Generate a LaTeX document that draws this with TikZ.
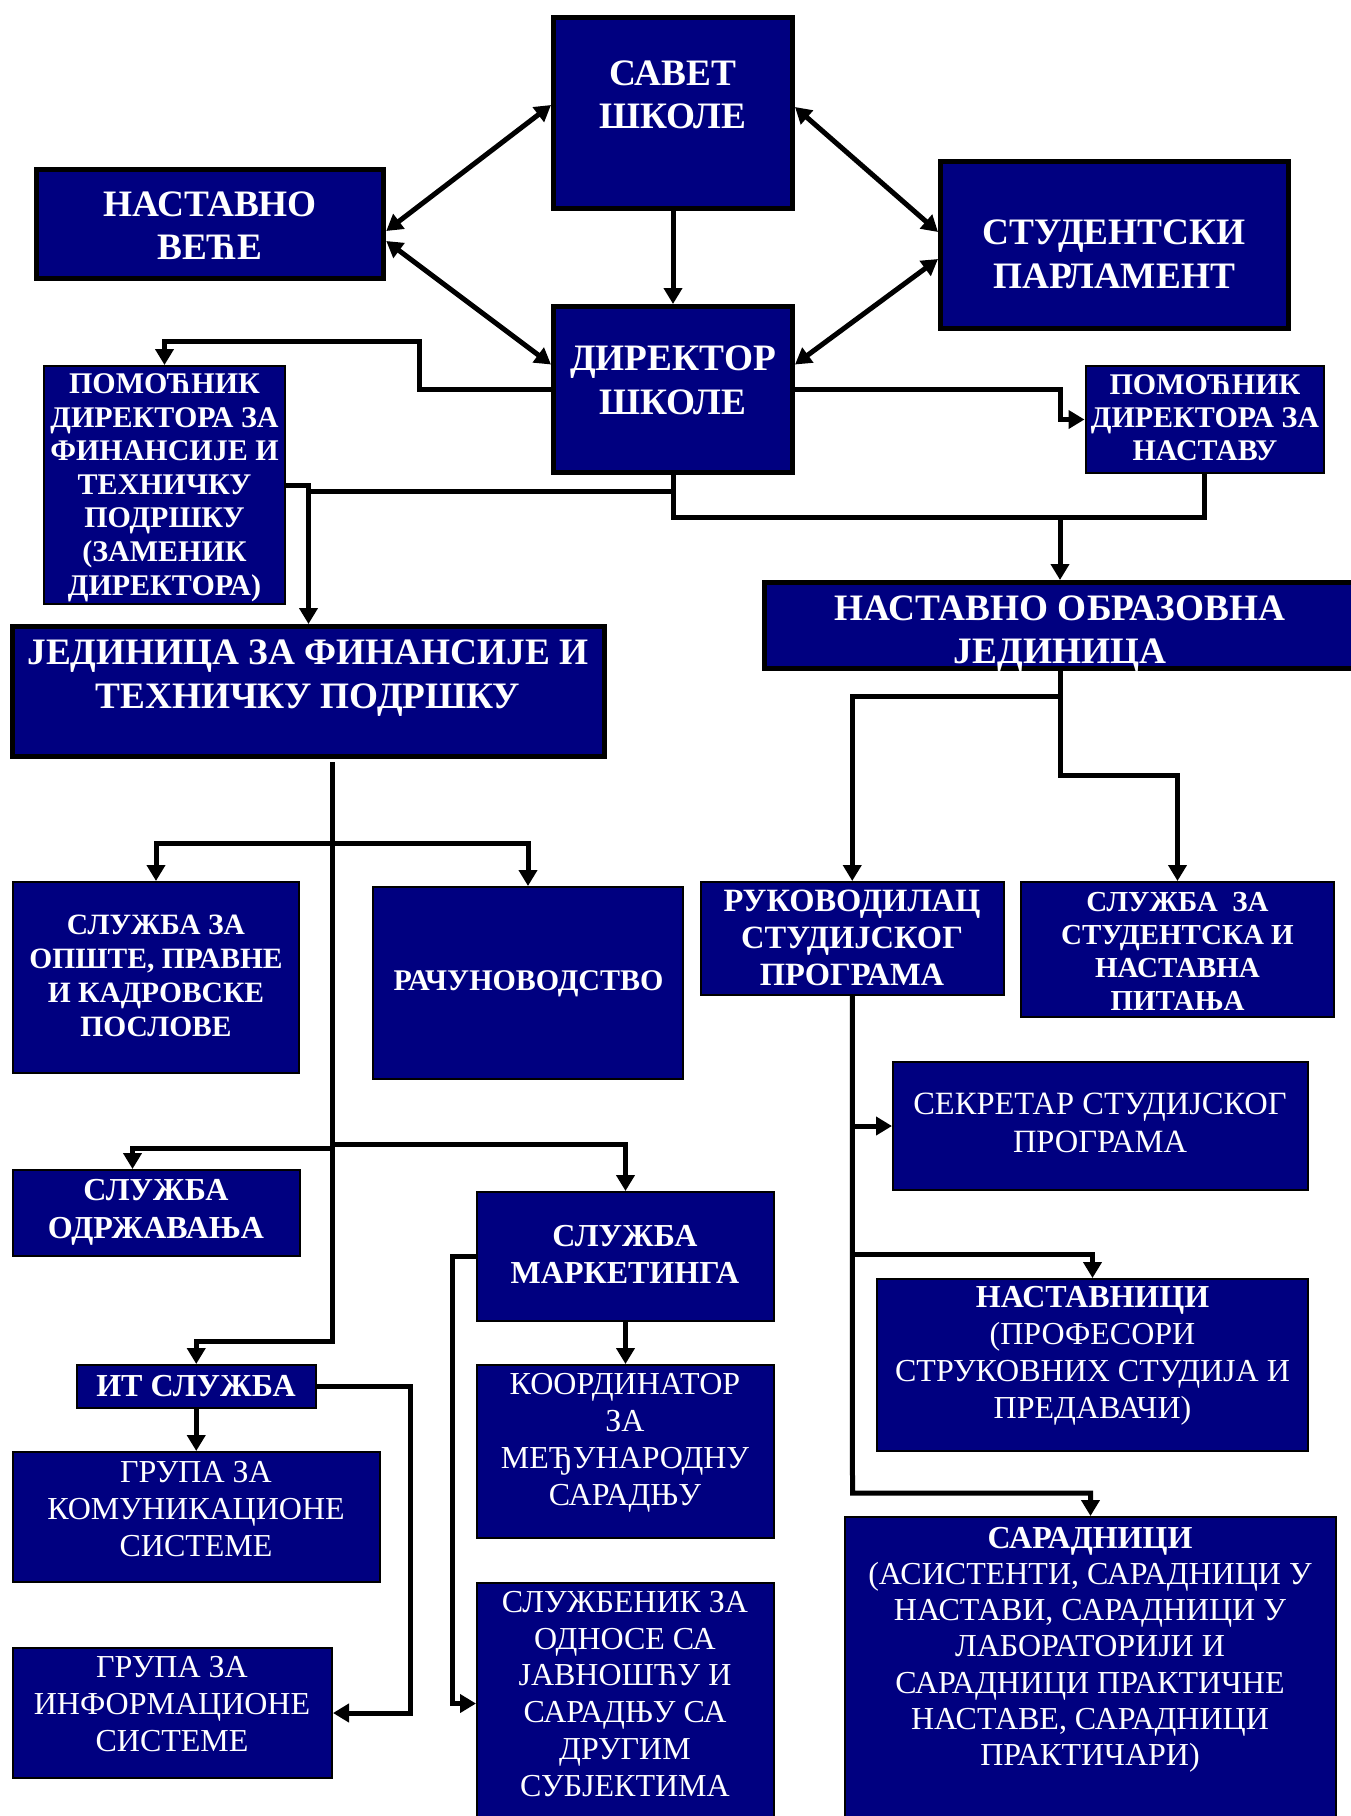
\documentclass[tikz,border=0pt]{standalone}
\usepackage{fontspec}
\setmainfont{Liberation Serif}
\usetikzlibrary{arrows.meta,calc}
\definecolor{navy}{RGB}{0,0,128}
\begin{document}
\begin{tikzpicture}[x=1pt,y=-1pt,
  thickbox/.style={rectangle,draw=black,line width=5pt,fill=navy,inner sep=0pt},
  thinbox/.style={rectangle,draw=black,line width=2pt,fill=navy,inner sep=0pt},
  lbl/.style={text=white,align=center,inner sep=0pt,anchor=base},
  conn/.style={line width=5pt},
  arr/.style={line width=5pt,-{Triangle[length=16pt,width=18pt]}},
  darr/.style={line width=5pt,{Triangle[length=16pt,width=18pt]}-{Triangle[length=16pt,width=18pt]}}
]
\fill[white] (0,0) rectangle (1351,1816);
\useasboundingbox (0,0) rectangle (1351,1816);

% ---------- boxes ----------
\node[thickbox,minimum width=239pt,minimum height=191pt] (savet) at (673,113) {};
\node[thickbox,minimum width=347.5pt,minimum height=109pt] (nv) at (210,224) {};
\node[thickbox,minimum width=348pt,minimum height=167pt] (stud) at (1114.5,245) {};
\node[thickbox,minimum width=239pt,minimum height=166pt] (dir) at (673,389.5) {};
\node[thickbox,minimum width=593pt,minimum height=86pt] (noj) at (1061,625.5) {};
\node[thickbox,minimum width=592pt,minimum height=130pt] (jfin) at (308.5,691.5) {};

\node[thinbox,minimum width=241pt,minimum height=238pt] (pomL) at (164.5,485) {};
\node[thinbox,minimum width=238.5pt,minimum height=107pt] (pomR) at (1204.75,419.5) {};
\node[thinbox,minimum width=286pt,minimum height=191pt] (opste) at (156,977.5) {};
\node[thinbox,minimum width=310pt,minimum height=192pt] (racun) at (528,983) {};
\node[thinbox,minimum width=287pt,minimum height=86pt] (odrz) at (156.5,1213) {};
\node[thinbox,minimum width=297pt,minimum height=129pt] (market) at (625.5,1256.5) {};
\node[thinbox,minimum width=239.5pt,minimum height=43pt] (it) at (196.25,1386.5) {};
\node[thinbox,minimum width=367pt,minimum height=130pt] (gkom) at (196.5,1517) {};
\node[thinbox,minimum width=319pt,minimum height=130pt] (ginf) at (172.5,1713) {};
\node[thinbox,minimum width=297pt,minimum height=173pt] (koord) at (625.5,1451.5) {};
\node[thinbox,minimum width=297pt,minimum height=241pt] (sluzb) at (625.5,1703.5) {};
\node[thinbox,minimum width=302.5pt,minimum height=113pt] (rukov) at (852.25,938.5) {};
\node[thinbox,minimum width=313pt,minimum height=134.5pt] (sstud) at (1177.5,949.25) {};
\node[thinbox,minimum width=415pt,minimum height=128pt] (sekr) at (1100.5,1126) {};
\node[thinbox,minimum width=431pt,minimum height=172pt] (nast) at (1092.5,1365) {};
\node[thinbox,minimum width=491pt,minimum height=307pt] (sarad) at (1090.5,1670.5) {};

% ---------- labels (anchored at the baseline of the last line) ----------
\begin{scope}[every node/.append style={lbl}]
\node[font=\fontsize{37.3}{43.5}\selectfont\bfseries] (savet-t) at (673,128.5) {САВЕТ\\ШКОЛЕ};
\node[font=\fontsize{37.3}{42.3}\selectfont\bfseries] (nv-t) at (210,259) {НАСТАВНО\\ВЕЋЕ};
\node[font=\fontsize{37.3}{43.4}\selectfont\bfseries] (stud-t) at (1114,288) {СТУДЕНТСКИ\\ПАРЛАМЕНТ};
\node[font=\fontsize{37.3}{44}\selectfont\bfseries] (dir-t) at (673,414) {ДИРЕКТОР\\ШКОЛЕ};
\node[font=\fontsize{30}{33.6}\selectfont\bfseries] (pomL-t) at (164.5,595) {ПОМОЋНИК\\ДИРЕКТОРА ЗА\\ФИНАНСИЈЕ И\\ТЕХНИЧКУ\\ПОДРШКУ\\(ЗАМЕНИК\\ДИРЕКТОРА)};
\node[font=\fontsize{30}{33}\selectfont\bfseries] (pomR-t) at (1205,460) {ПОМОЋНИК\\ДИРЕКТОРА ЗА\\НАСТАВУ};
\node[font=\fontsize{37.3}{42.5}\selectfont\bfseries] (noj-t) at (1060,663) {НАСТАВНО ОБРАЗОВНА\\ЈЕДИНИЦА};
\node[font=\fontsize{37.3}{44.6}\selectfont\bfseries] (jfin-t) at (308,708.6) {ЈЕДИНИЦА ЗА ФИНАНСИЈЕ И\\ТЕХНИЧКУ ПОДРШКУ};
\node[font=\fontsize{29.5}{34}\selectfont\bfseries] (opste-t) at (156,1036.6) {СЛУЖБА ЗА\\ОПШТЕ, ПРАВНЕ\\И КАДРОВСКЕ\\ПОСЛОВЕ};
\node[font=\fontsize{30}{34}\selectfont\bfseries] (racun-t) at (528.5,990.5) {РАЧУНОВОДСТВО};
\node[font=\fontsize{32}{38}\selectfont\bfseries] (odrz-t) at (156,1238) {СЛУЖБА\\ОДРЖАВАЊА};
\node[font=\fontsize{32}{37}\selectfont\bfseries] (market-t) at (625,1283) {СЛУЖБА\\МАРКЕТИНГА};
\node[font=\fontsize{32}{37}\selectfont\bfseries] (it-t) at (196,1396.5) {ИТ СЛУЖБА};
\node[font=\fontsize{32}{37}\selectfont] (gkom-t) at (196,1556) {ГРУПА ЗА\\КОМУНИКАЦИОНЕ\\СИСТЕМЕ};
\node[font=\fontsize{32}{37}\selectfont] (ginf-t) at (172,1751) {ГРУПА ЗА\\ИНФОРМАЦИОНЕ\\СИСТЕМЕ};
\node[font=\fontsize{32}{37}\selectfont] (koord-t) at (625,1505.7) {КООРДИНАТОР\\ЗА\\МЕЂУНАРОДНУ\\САРАДЊУ};
\node[font=\fontsize{32}{36.7}\selectfont] (sluzb-t) at (625,1796) {СЛУЖБЕНИК ЗА\\ОДНОСЕ СА\\ЈАВНОШЋУ И\\САРАДЊУ СА\\ДРУГИМ\\СУБЈЕКТИМА};
\node[font=\fontsize{32.5}{37}\selectfont\bfseries] (rukov-t) at (852,985.6) {РУКОВОДИЛАЦ\\СТУДИЈСКОГ\\ПРОГРАМА};
\node[font=\fontsize{29}{33}\selectfont\bfseries] (sstud-t) at (1177.5,1010) {СЛУЖБА~~ЗА\\СТУДЕНТСКА И\\НАСТАВНА\\ПИТАЊА};
\node[font=\fontsize{32.5}{38}\selectfont] (sekr-t) at (1100,1152) {СЕКРЕТАР СТУДИЈСКОГ\\ПРОГРАМА};
\node[font=\fontsize{32}{36.7}\selectfont] (nast-t) at (1092.5,1418) {\textbf{НАСТАВНИЦИ}\\(ПРОФЕСОРИ\\СТРУКОВНИХ СТУДИЈА И\\ПРЕДАВАЧИ)};
\node[font=\fontsize{32}{36.3}\selectfont] (sarad-t) at (1090,1765.8) {\textbf{САРАДНИЦИ}\\(АСИСТЕНТИ, САРАДНИЦИ У\\НАСТАВИ, САРАДНИЦИ У\\ЛАБОРАТОРИЈИ И\\САРАДНИЦИ ПРАКТИЧНЕ\\НАСТАВЕ, САРАДНИЦИ\\ПРАКТИЧАРИ)};
\end{scope}

% ---------- bend coordinates ----------
\coordinate (b1) at (419,341);
\coordinate (b2) at (1060,400);
\coordinate (b3) at (308.5,491);
\coordinate (b4) at (1060,517.5);
\coordinate (t1) at (332,843);
\coordinate (t2l) at (332,1148);
\coordinate (t2r) at (332,1144);
\coordinate (t3) at (332,1341);
\coordinate (b5) at (410,1500);
\coordinate (b6) at (452.5,1500);
\coordinate (r1) at (1060,696);
\coordinate (r2) at (1060,775);
\coordinate (r3) at (852.5,1126);
\coordinate (r4) at (852.5,1254);
\coordinate (r5) at (852.5,1493);

% ---------- connectors ----------
\draw[darr] ([yshift=-7pt]nv.east) -- ([yshift=8pt]savet.west);
\draw[darr] ([yshift=-17pt]nv.east) -- ([yshift=25pt]dir.west);
\draw[darr] ([yshift=6pt]savet.east) -- ([yshift=13pt]stud.west);
\draw[darr] ([yshift=25pt]dir.east) -- ([yshift=-14pt]stud.west);
\draw[arr] (savet.south) -- (dir.north);

\draw[arr] (dir.west) -| (b1) -| (pomL.north);
\draw[arr] (dir.east) -| (b2) |- (pomR.west);
\draw[arr] (pomL.east) -| (jfin.north);
\draw[conn] (dir.south) |- (b3);
\draw[conn] (dir.south) |- (b4);
\draw[conn] (pomR.south) |- (b4);
\draw[arr] (b4) -- (b4 |- noj.north);

% left tree
\draw[arr] ([xshift=23.5pt,yshift=-3pt]jfin.south) -- (t3) -| (it.north);
\draw[arr] (t1) -| (opste.north);
\draw[arr] (t1) -| (racun.north);
\draw[arr] (t2l) -| ([xshift=-24pt]odrz.north);
\draw[arr] (t2r) -| (market.north);
\draw[arr] (it.south) -- (it.south |- gkom.north);
\draw[arr] (it.east) -| (b5) |- (ginf.east);
\draw[arr] (market.south) -- (koord.north);
\draw[arr] (market.west) -| (b6) |- (sluzb.west);

% right tree
\draw[arr] (r1 |- noj.south) -- (r2) -| (sstud.north);
\draw[arr] (r1) -| (rukov.north);
\draw[arr] (rukov.south) -- (r5) -| (sarad.north);
\draw[arr] (r3) -- (sekr.west);
\draw[arr] (r4) -| (nast.north);
\end{tikzpicture}
\end{document}
